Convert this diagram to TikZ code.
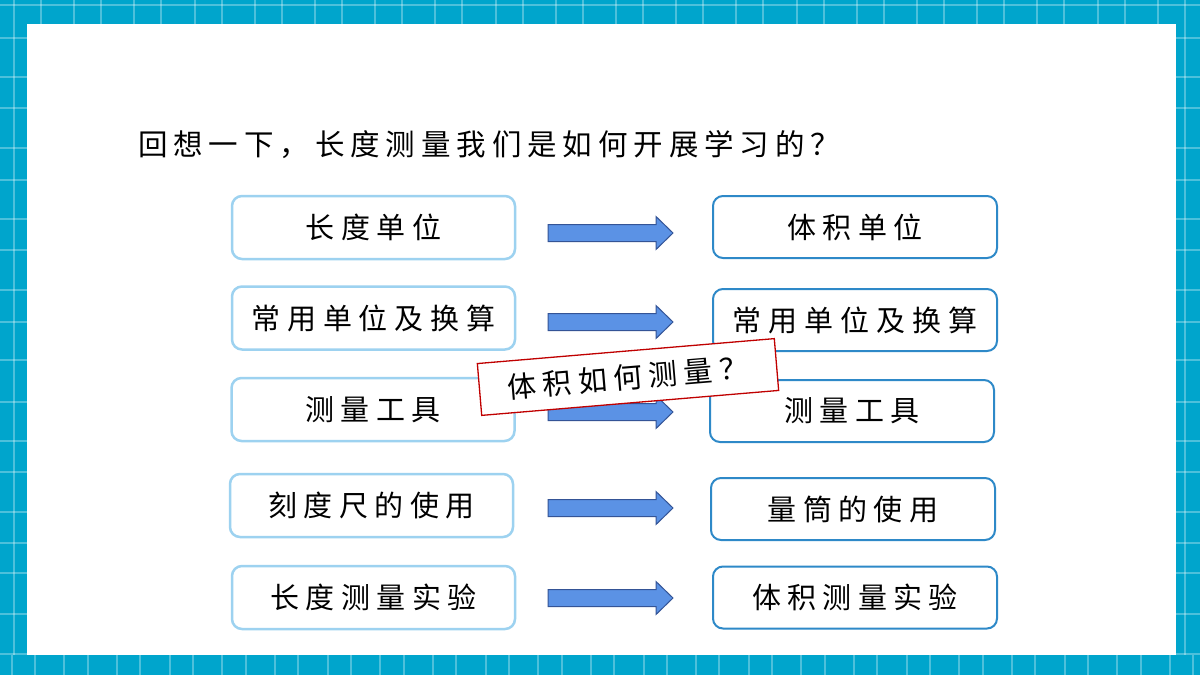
\documentclass[tikz,border=0pt]{standalone}
\usepackage{fontspec}
\newfontfamily\cjk[LetterSpace=22]{Noto Sans CJK SC}
\newfontfamily\cjktitle[LetterSpace=20]{Noto Sans CJK SC}
\newfontfamily\cjkwide[LetterSpace=24]{Noto Sans CJK SC}
\definecolor{frameblue}{RGB}{0,165,204}
\definecolor{lightedge}{RGB}{157,210,240}
\definecolor{darkedge}{RGB}{46,137,200}
\definecolor{arrowfill}{RGB}{91,146,229}
\definecolor{arrowedge}{RGB}{52,84,150}
\definecolor{labelred}{RGB}{192,0,0}
\tikzset{
  x=1pt,y=1pt,
  gridline/.style={draw=white,opacity=0.3,line width=2pt},
  leftbox/.style={draw=lightedge,line width=2.5pt,rounded corners=10pt,fill=white,
    minimum width=283pt,minimum height=63pt,inner sep=0pt,font=\cjk\fontsize{29}{29}\selectfont},
  rightbox/.style={draw=darkedge,line width=2pt,rounded corners=10pt,fill=white,
    minimum width=284pt,minimum height=62pt,inner sep=0pt,font=\cjk\fontsize{29}{29}\selectfont},
  bigarrow/.style={fill=arrowfill,draw=arrowedge,line width=1pt,line join=miter},
  tiltlabel/.style={draw=labelred,line width=1.3pt,fill=white,minimum width=298pt,
    minimum height=52pt,inner sep=0pt,rotate=4.8,font=\cjk\fontsize{29}{29}\selectfont},
}
\newcommand{\blockarrow}[1]{%
  \draw[bigarrow] (548,-#1+8.5) -- (656,-#1+8.5) -- (656,-#1+16.5) -- (673,-#1)
    -- (656,-#1-16.5) -- (656,-#1-8.5) -- (548,-#1-8.5) -- cycle;}
\begin{document}
\begin{tikzpicture}
\useasboundingbox (0,0) rectangle (1200,-675);
% frame
\fill[frameblue] (0,0) rectangle (1200,-675);
% vertical grid lines (top strip & sides)
\foreach \k in {0,...,19}{
  \draw[gridline] ({14+60.2*\k},0) -- ({14+60.2*\k},-655);
  \draw[gridline] ({41+60.2*\k},0) -- ({41+60.2*\k},-655);
}
% vertical grid lines (bottom strip)
\foreach \k in {0,...,22}{
  \draw[gridline] ({11.7+52.65*\k},-655) -- ({11.7+52.65*\k},-675);
  \draw[gridline] ({35+52.65*\k},-655) -- ({35+52.65*\k},-675);
}
% horizontal grid lines
\foreach \yy in {5,37.7,77.3,108.3,148.3,180,219.3,250,290,321.7,360,401.7,441,472.3,511.7,543.3,573.3,614.3,653.5}{
  \draw[gridline] (0,-\yy) -- (1200,-\yy);
}
% white panel
\fill[white] (27,-24) rectangle (1176,-655);
% title
\node[anchor=west,inner sep=0pt,font=\cjktitle\fontsize{29.5}{29.5}\selectfont] (title) at (138,-145) {回想一下，长度测量我们是如何开展学习的？};
% left boxes
\node[leftbox] (L1) at (373.5,-227.5) {长度单位};
\node[leftbox] (L2) at (373.5,-318) {\cjkwide 常用单位及换算};
\node[leftbox] (L3) at (373,-409.5) {测量工具};
\node[leftbox] (L4) at (371.5,-505.5) {刻度尺的使用};
\node[leftbox] (L5) at (373.5,-597.5) {长度测量实验};
% right boxes
\node[rightbox] (R1) at (855,-227) {体积单位};
\node[rightbox] (R2) at (855,-320) {\cjkwide 常用单位及换算};
\node[rightbox] (R3) at (852,-411) {测量工具};
\node[rightbox] (R4) at (853,-509) {量筒的使用};
\node[rightbox] (R5) at (855,-597.5) {体积测量实验};
% arrows
\blockarrow{233}
\blockarrow{322}
\blockarrow{412}
\blockarrow{508}
\blockarrow{598}
% tilted label
\node[tiltlabel] (Q) at (628,-377) {体积如何测量？};
\end{tikzpicture}
\end{document}
